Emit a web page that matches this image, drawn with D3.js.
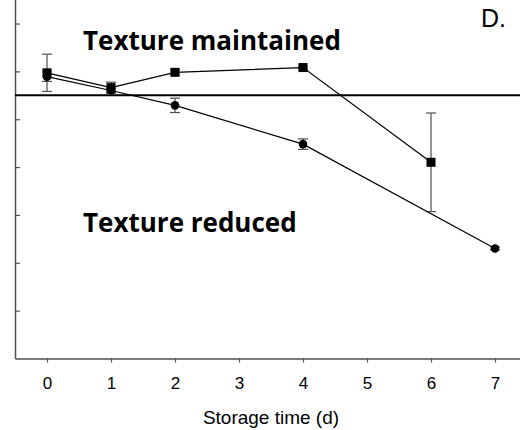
<!DOCTYPE html>
<html>
<head>
<meta charset="utf-8">
<script src="https://cdn.jsdelivr.net/npm/d3@7"></script>
<style>
  body { margin: 0; background: #fff; }
  svg { display: block; }
</style>
</head>
<body>
<div id="chart"></div>
<script>
// storage days on the x axis
var days = [0, 1, 2, 4, 6, 7];

// square series (texture maintained)
var sqDays = [0, 1, 2, 4, 6];
var sqVals = [5.97, 5.66, 5.98, 6.08, 4.10];
var sqErr  = [0.39, 0.115, 0.05, 0.03, 1.03];

// circle series
var ciDays = [0, 1, 2, 4, 7];
var ciVals = [5.89, 5.60, 5.29, 4.48, 2.30];
var ciErr  = [0.10, 0.05, 0.15, 0.11, 0.03];

var xTicks = [0, 1, 2, 3, 4, 5, 6, 7];
var yTicks = [1, 2, 3, 4, 5, 6, 7];
var threshold = 5.5;

var W = 520, H = 430;
var mLeft = 15, mTop = 0, mBottom = 358.5, mRight = 527;

var svg = d3.select("#chart").append("svg")
    .attr("width", W)
    .attr("height", H);

var x = d3.scaleLinear().domain([-0.5, 7.5]).range([mLeft, mRight]);
var y = d3.scaleLinear().domain([0, 7.5]).range([mBottom, mTop - 0.4]);

var axisCol = "#505050";

// x axis
var gx = svg.append("g")
    .attr("transform", "translate(0," + mBottom + ")")
    .call(d3.axisBottom(x).tickValues(xTicks).tickSize(4).tickPadding(14).tickSizeOuter(0));
gx.select(".domain").attr("stroke", axisCol).attr("stroke-width", 1.5);
gx.selectAll(".tick line").attr("stroke", axisCol).attr("stroke-width", 1.2);
gx.selectAll(".tick text")
    .attr("fill", "#000")
    .style("font-family", "'Liberation Sans', Arial, sans-serif")
    .style("font-size", "17px");

// y axis, ticks pointing inward, no labels
var gy = svg.append("g")
    .attr("transform", "translate(" + mLeft + ",0)")
    .call(d3.axisRight(y).tickValues(yTicks).tickSize(5).tickFormat("").tickSizeOuter(0));
gy.select(".domain").attr("stroke", axisCol).attr("stroke-width", 1.5);
gy.selectAll(".tick line").attr("stroke", axisCol).attr("stroke-width", 1.2);

// axis title
svg.append("text")
    .attr("x", (mLeft + mRight) / 2)
    .attr("y", 424)
    .attr("text-anchor", "middle")
    .style("font-family", "'Liberation Sans', Arial, sans-serif")
    .style("font-size", "19px")
    .text("Storage time (d)");

// threshold line
svg.append("line")
    .attr("x1", mLeft).attr("x2", W)
    .attr("y1", y(threshold)).attr("y2", y(threshold))
    .attr("stroke", "#000")
    .attr("stroke-width", 2);

function errorBars(ds, vs, es) {
  var g = svg.append("g").attr("stroke", axisCol).attr("stroke-width", 1.2);
  ds.forEach(function(d, i) {
    var cx = x(d), y1 = y(vs[i] + es[i]), y2 = y(vs[i] - es[i]);
    g.append("line").attr("x1", cx).attr("x2", cx).attr("y1", y1).attr("y2", y2);
    g.append("line").attr("x1", cx - 5).attr("x2", cx + 5).attr("y1", y1).attr("y2", y1);
    g.append("line").attr("x1", cx - 5).attr("x2", cx + 5).attr("y1", y2).attr("y2", y2);
  });
}
errorBars(sqDays, sqVals, sqErr);
errorBars(ciDays, ciVals, ciErr);

var line = d3.line()
    .x(function(d) { return x(d[0]); })
    .y(function(d) { return y(d[1]); });

var sqPts = d3.zip(sqDays, sqVals);
var ciPts = d3.zip(ciDays, ciVals);

svg.append("path").datum(sqPts).attr("d", line)
    .attr("fill", "none").attr("stroke", "#000").attr("stroke-width", 1.2);
svg.append("path").datum(ciPts).attr("d", line)
    .attr("fill", "none").attr("stroke", "#000").attr("stroke-width", 1.2);

svg.selectAll(".sq").data(sqPts).enter().append("rect")
    .attr("class", "sq")
    .attr("x", function(d) { return x(d[0]) - 4.5; })
    .attr("y", function(d) { return y(d[1]) - 4.5; })
    .attr("width", 9).attr("height", 9)
    .attr("fill", "#000");

svg.selectAll(".ci").data(ciPts).enter().append("circle")
    .attr("class", "ci")
    .attr("cx", function(d) { return x(d[0]); })
    .attr("cy", function(d) { return y(d[1]); })
    .attr("r", 4.3)
    .attr("fill", "#000");

// annotations
var boldFont = "'Open Sans', Lato, sans-serif";
svg.append("text")
    .attr("x", 83).attr("y", 50)
    .style("font-family", boldFont)
    .style("font-weight", "bold")
    .style("font-size", "26px")
    .text("Texture maintained");
svg.append("text")
    .attr("x", 83).attr("y", 232)
    .style("font-family", boldFont)
    .style("font-weight", "bold")
    .style("font-size", "26px")
    .text("Texture reduced");
svg.append("text")
    .attr("x", 481).attr("y", 27)
    .style("font-family", "'Liberation Sans', Arial, sans-serif")
    .style("font-size", "25px")
    .text("D.");
</script>
</body>
</html>
